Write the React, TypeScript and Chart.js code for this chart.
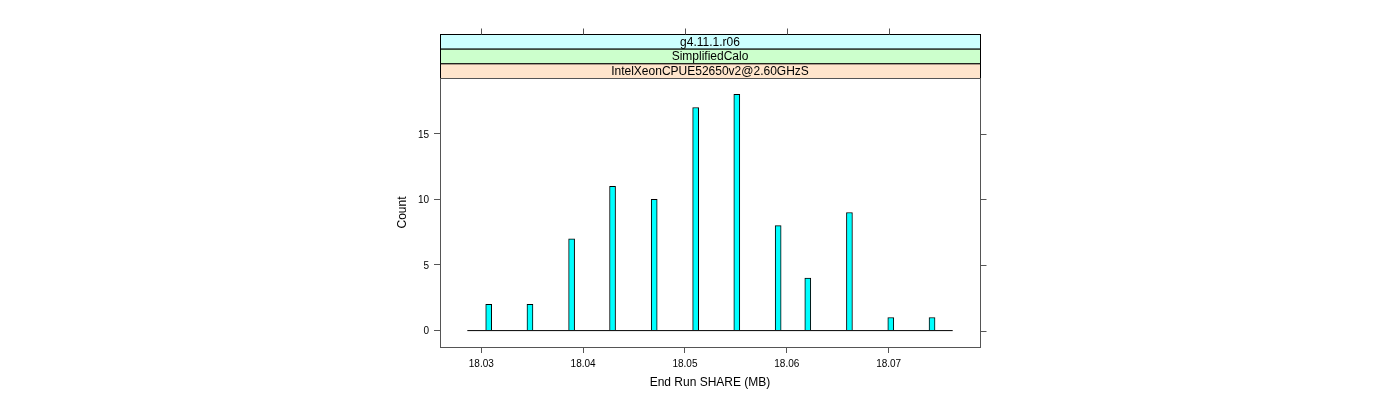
import React, { useEffect, useRef } from "react";
import { Chart, registerables } from "chart.js";

Chart.register(...registerables);

const binCenters = [18.03073, 18.03478, 18.03887, 18.04289, 18.04698, 18.05105, 18.05509, 18.05915, 18.06206, 18.06615, 18.07021, 18.07426];
const counts = [2, 2, 7, 11, 10, 17, 18, 8, 4, 9, 1, 1];
const baselineRange = [18.02863, 18.07629];
const xTicks = [18.03, 18.04, 18.05, 18.06, 18.07];
const yTicks = [0, 5, 10, 15];
const stripLabels = ["g4.11.1.r06", "SimplifiedCalo", "IntelXeonCPUE52650v2@2.60GHzS"];
const stripColors = ["#ccffff", "#ccffcc", "#ffe5cc"];
const xTitle = "End Run SHARE (MB)";
const yTitle = "Count";

const FONT = "'Liberation Sans', Arial, Helvetica, sans-serif";
const AXIS_COLOR = "#555555";

const latticePlugin = {
  id: "lattice",
  afterDraw(chart: any) {
    const { ctx, chartArea: a, scales } = chart;
    const xs = scales.x;
    const ys = scales.y;
    ctx.save();
    // strips
    const stripTop = 34.5;
    const stripH = (a.top + 0.5 - stripTop) / stripLabels.length;
    stripLabels.forEach((lab, i) => {
      const y0 = stripTop + i * stripH;
      ctx.fillStyle = stripColors[i];
      ctx.fillRect(a.left + 0.5, y0, a.right - a.left, stripH);
      ctx.strokeStyle = "#000000";
      ctx.lineWidth = 1;
      ctx.strokeRect(a.left + 0.5, y0, a.right - a.left, stripH);
      ctx.fillStyle = "#000000";
      ctx.font = `12px ${FONT}`;
      ctx.textAlign = "center";
      ctx.textBaseline = "middle";
      ctx.fillText(lab, (a.left + a.right) / 2, y0 + stripH / 2 + 0.5);
    });
    // panel box
    ctx.strokeStyle = AXIS_COLOR;
    ctx.lineWidth = 1;
    ctx.strokeRect(a.left + 0.5, a.top + 0.5, a.right - a.left, a.bottom - a.top);
    // top ticks
    ctx.beginPath();
    xTicks.forEach((v) => {
      const px = Math.round(xs.getPixelForValue(v)) + 0.5;
      ctx.moveTo(px, stripTop);
      ctx.lineTo(px, stripTop - 6);
    });
    // right ticks
    yTicks.forEach((v) => {
      const py = Math.round(ys.getPixelForValue(v)) + 0.5;
      ctx.moveTo(a.right + 0.5, py);
      ctx.lineTo(a.right + 6.5, py);
    });
    ctx.stroke();
    ctx.restore();
  },
};

export default function App() {
  const ref = useRef<HTMLCanvasElement | null>(null);
  useEffect(() => {
    if (!ref.current) return;
    const chart = new Chart(ref.current, {
      type: "bar",
      data: {
        datasets: [
          {
            type: "line",
            data: baselineRange.map((x) => ({ x, y: 0 })),
            borderColor: "#000000",
            borderWidth: 1,
            pointRadius: 0,
            order: 0,
          } as any,
          {
            type: "bar",
            data: binCenters.map((x, i) => ({ x, y: counts[i] })),
            backgroundColor: "#00ffff",
            borderColor: "#000000",
            borderWidth: 1,
            barThickness: 6,
            order: 1,
          } as any,
        ],
      },
      options: {
        responsive: false,
        animation: false,
        layout: { padding: { left: 390, right: 420, top: 78, bottom: 0 } },
        plugins: { legend: { display: false }, tooltip: { enabled: false } },
        scales: {
          x: {
            type: "linear",
            min: 18.025947,
            max: 18.07897,
            offset: false,
            grid: { display: true, drawOnChartArea: false, drawTicks: true, tickLength: 6, color: AXIS_COLOR, offset: false },
            border: { display: false },
            afterBuildTicks: (s: any) => {
              s.ticks = xTicks.map((v) => ({ value: v }));
            },
            afterFit: (s: any) => {
              s.height = 53;
            },
            ticks: {
              padding: 5,
              color: "#000000",
              font: { family: FONT, size: 10 },
              maxRotation: 0,
              autoSkip: false,
              callback: (v: any) => Number(v).toFixed(2),
            },
            title: { display: true, text: xTitle, color: "#000000", font: { family: FONT, size: 12 }, padding: { top: 0, bottom: 10 } },
          },
          y: {
            type: "linear",
            min: -1.25,
            max: 19.25,
            grid: { display: true, drawOnChartArea: false, drawTicks: true, tickLength: 6, color: AXIS_COLOR },
            border: { display: false },
            afterBuildTicks: (s: any) => {
              s.ticks = yTicks.map((v) => ({ value: v }));
            },
            afterFit: (s: any) => {
              s.width = 50;
            },
            ticks: {
              padding: 5,
              labelOffset: 1,
              color: "#000000",
              font: { family: FONT, size: 10 },
              autoSkip: false,
              callback: (v: any) => String(v),
            },
            title: { display: true, text: yTitle, color: "#000000", font: { family: FONT, size: 12 }, padding: { top: 5, bottom: 0 } },
          },
        },
      },
      plugins: [latticePlugin],
    } as any);
    return () => chart.destroy();
  }, []);
  return (
    <div style={{ position: "absolute", left: 0, top: 0, width: 1400, height: 400, background: "#ffffff" }}>
      <canvas ref={ref} width={1400} height={400} style={{ display: "block" }} />
    </div>
  );
}
